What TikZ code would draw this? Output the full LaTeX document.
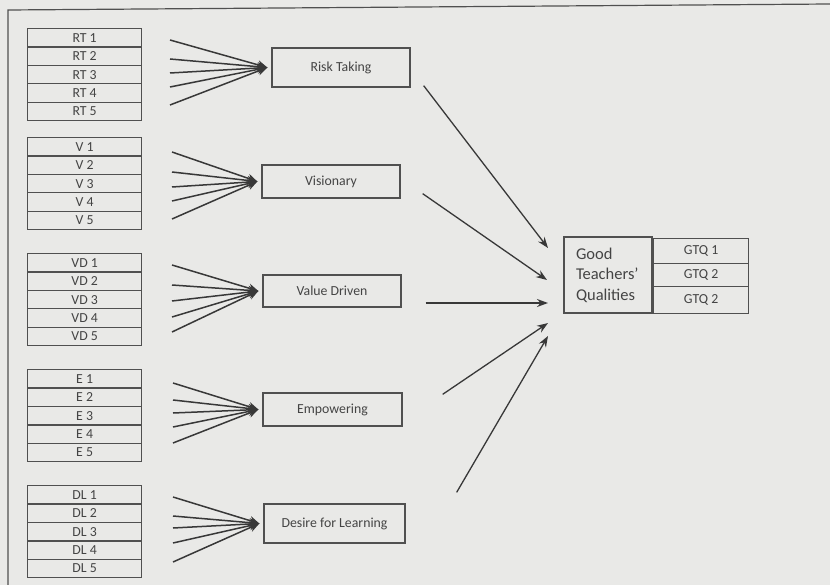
\documentclass[tikz,border=0pt]{standalone}
\usepackage{fontspec}
\setmainfont{Carlito}
\usetikzlibrary{arrows.meta,calc}
\definecolor{bg}{HTML}{E9E9E7}
\definecolor{ln}{HTML}{383838}
\definecolor{bx}{HTML}{505050}
\definecolor{tx}{HTML}{444444}
\begin{document}
\begin{tikzpicture}[x=1pt,y=-1pt,
  every node/.style={font=\fontsize{13.8}{20}\selectfont, text=tx},
  cell/.style={draw=bx, line width=1.3pt, minimum width=114pt, minimum height=18.4pt, inner sep=0pt, anchor=north west},
  mid/.style={draw=bx, line width=1.3pt, inner sep=0pt},
  gcell/.style={draw=bx, line width=1.3pt, minimum width=95pt, inner sep=0pt, anchor=north west},
  fan/.style={draw=ln, line width=1.5pt, -{Stealth[length=10pt,width=9pt]}},
  link/.style={draw=ln, line width=1.3pt, -{Stealth[length=11pt,width=8pt]}}
]
\fill[bg] (0,0) rectangle (830,585);
\useasboundingbox (0,0) rectangle (830,585);
% outer frame
\draw[bx, line width=1.2pt] (8,585) -- (8,10) -- (830,4);

% item cells
\foreach \p/\t in {RT/28, V/137, VD/253, E/369, DL/485} {
  \foreach \i in {1,...,5} {
    \node[cell] (\p\i) at (27, {\t+(\i-1)*18.4}) {\p\ \i};
  }
}

% middle boxes
\node[mid, minimum width=138pt, minimum height=39pt] (risk) at (341,67.5) {Risk Taking};
\node[mid, minimum width=138pt, minimum height=33pt] (vis) at (331,181.5) {Visionary};
\node[mid, minimum width=138pt, minimum height=32pt] (vd) at (332,291) {Value Driven};
\node[mid, minimum width=139pt, minimum height=33pt] (emp) at (332.5,409.5) {Empowering};
\node[mid, minimum width=141pt, minimum height=39pt] (dl) at (334.5,523.5) {Desire for Learning};

% good teachers' qualities
\node[mid, minimum width=88pt, minimum height=76pt, text width=64pt, align=left,
      font=\fontsize{16.5}{20.5}\selectfont] (good) at (608,275) {Good\\Teachers'\\Qualities};
\node[gcell, minimum height=25pt] (gtq1) at (653,238) {GTQ 1};
\node[gcell, minimum height=23pt] (gtq2) at (653,263) {GTQ 2};
\node[gcell, minimum height=27pt] (gtq3) at (653,286) {GTQ 2};

% fan starts
\foreach \p/\x/\a/\b/\c/\d/\e in {RT/170/40/59/73/87/105, V/172/152/172/187/201/219, VD/172/265/285/301/317/332, E/173/383/400/413/427/443, DL/173/497/516/528/543/562} {
  \coordinate (\p s1) at (\x,\a);
  \coordinate (\p s2) at (\x,\b);
  \coordinate (\p s3) at (\x,\c);
  \coordinate (\p s4) at (\x,\d);
  \coordinate (\p s5) at (\x,\e);
}
\foreach \p/\n in {RT/risk, V/vis, VD/vd, E/emp, DL/dl} {
  \foreach \i in {1,...,5} {
    \draw[fan] (\p s\i) -- ([xshift=-4pt]\n.west);
  }
}

% links to good teachers' qualities
\coordinate (g1) at (548,248);
\coordinate (g2) at (547,280);
\coordinate (g3) at (548,303);
\coordinate (g4) at (548,323);
\coordinate (g5) at (548,336);
\draw[link] ($(risk.south east)+(13,-2)$) -- (g1);
\draw[link] ($(vis.south east)+(22,-5)$) -- (g2);
\draw[link] ($(vd.east)+(24,12)$) -- (g3);
\draw[link] ($(emp.north east)+(40,2)$) -- (g4);
\draw[link] ($(dl.north east)+(51,-11)$) -- (g5);
\end{tikzpicture}
\end{document}
